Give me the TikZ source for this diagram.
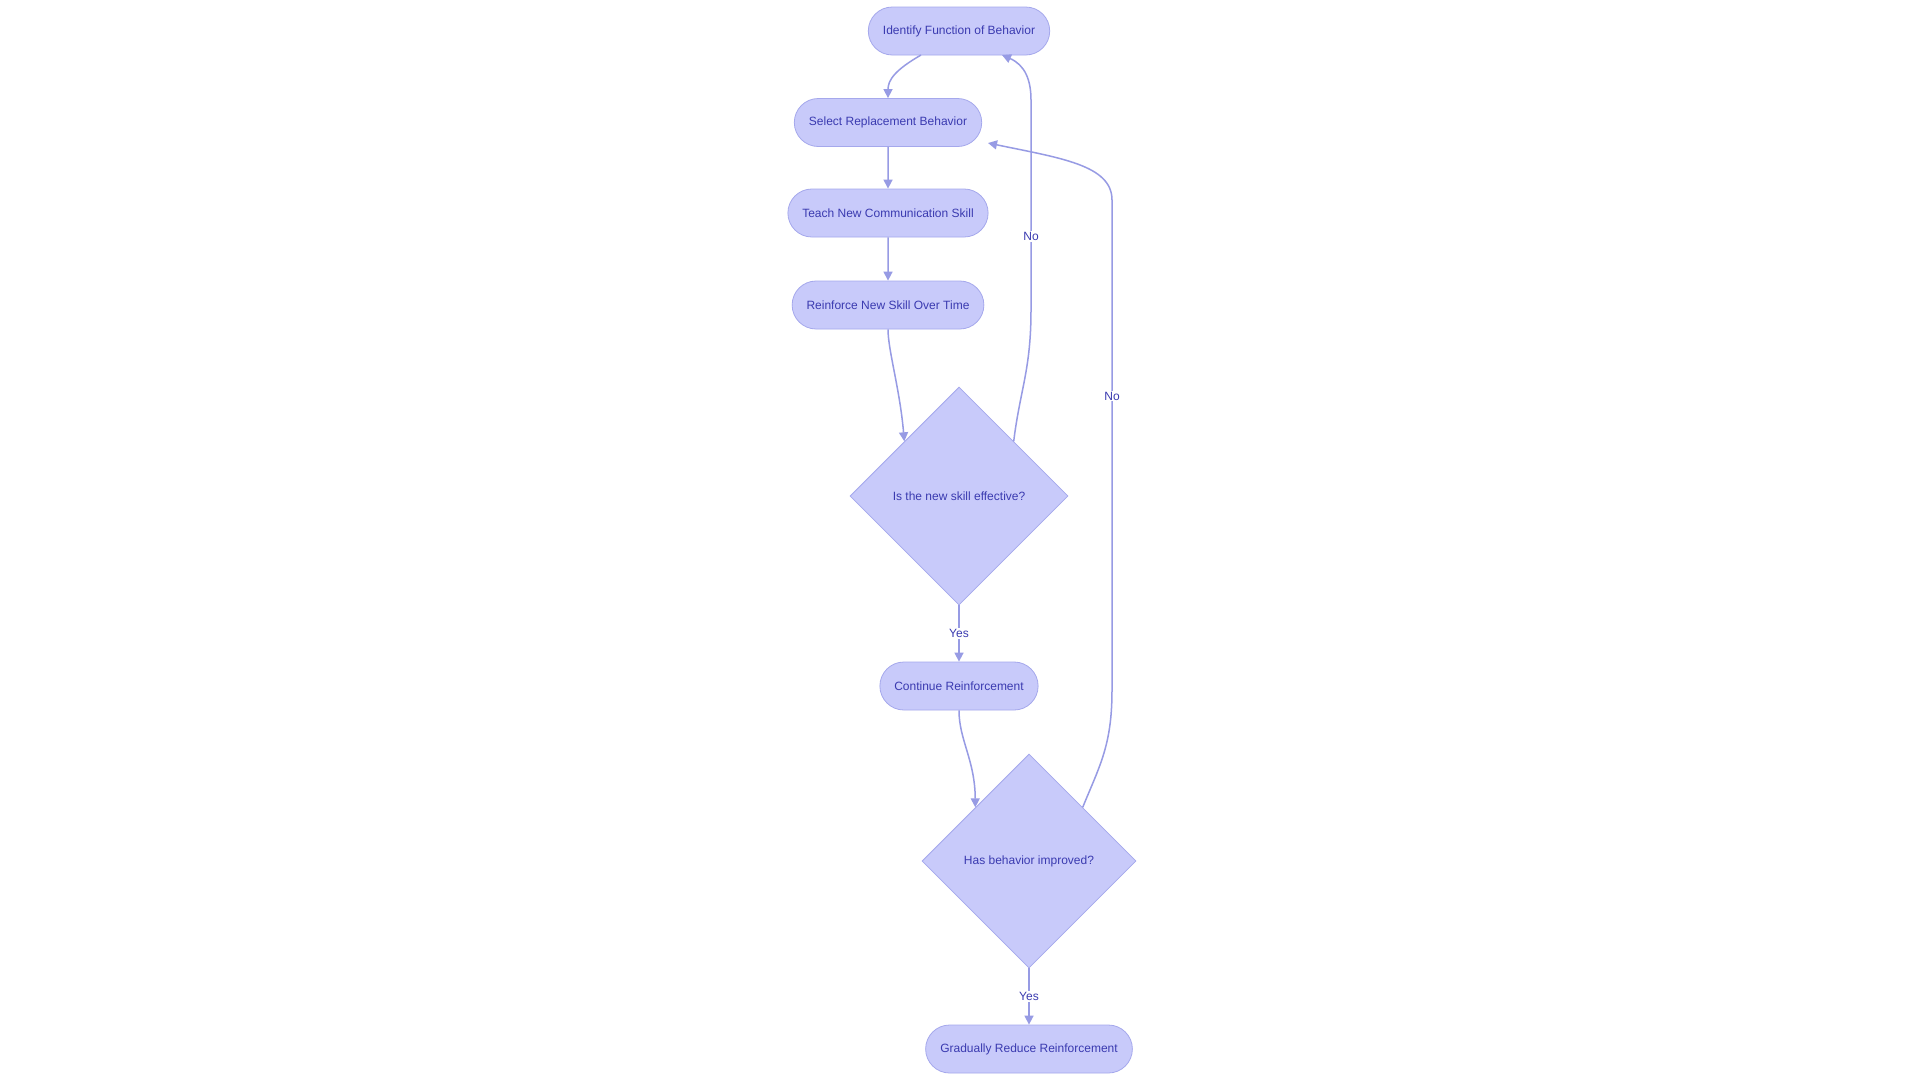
\documentclass[tikz,border=0pt]{standalone}
\usepackage{fontspec}
\setmainfont{Liberation Sans}
\usetikzlibrary{shapes.geometric,arrows.meta}
\definecolor{nfill}{HTML}{C8CAFA}
\definecolor{nline}{HTML}{A5A8EC}
\definecolor{ntext}{HTML}{3A3AB0}
\definecolor{eline}{HTML}{979BE4}
\begin{document}
\begin{tikzpicture}[x=1pt,y=-1pt,
  pill/.style={draw=nline,fill=nfill,rounded rectangle,minimum height=48pt,text=ntext,font=\fontsize{12}{14}\selectfont,inner xsep=14pt,line width=0.8pt},
  dia/.style={draw=nline,fill=nfill,diamond,text=ntext,font=\fontsize{12}{14}\selectfont,line width=0.8pt,inner sep=0pt},
  edge/.style={draw=eline,line width=1.5pt,-{Triangle[length=9pt,width=9pt]}},
  lbl/.style={fill=white,text=ntext,font=\fontsize{12}{14}\selectfont,inner sep=1pt}]
\useasboundingbox[fill=white] (0,0) rectangle (1920,1080);
\usetikzlibrary{shapes.misc}
\node[pill] (a) at (959,31) {Identify Function of Behavior};
\node[pill] (b) at (888,122.5) {Select Replacement Behavior};
\node[pill] (c) at (888,213) {Teach New Communication Skill};
\node[pill] (d) at (888,305) {Reinforce New Skill Over Time};
\node[dia,minimum width=218pt,minimum height=218pt] (e) at (959,496) {Is the new skill effective?};
\node[pill] (f) at (959,686) {Continue Reinforcement};
\node[dia,minimum width=214pt,minimum height=214pt] (g) at (1029,861) {Has behavior improved?};
\node[pill] (h) at (1029,1049) {Gradually Reduce Reinforcement};
\coordinate (a1) at (921,55);
\draw[edge] (a1) .. controls (895,70) and (888,80) .. (b.north);
\draw[edge] (b) -- (c);
\draw[edge] (c) -- (d);
\draw[edge] (d.south) .. controls (888,350) and (900,390) .. (e.north west);
\draw[edge] (e.south) -- node[lbl] {Yes} (f.north);
\draw[edge] (f.south) .. controls (959,740) and (975,760) .. (g.north west);
\draw[edge] (g.south) -- node[lbl] {Yes} (h.north);
\coordinate (e1) at (998,425);
\coordinate (a2) at (1002,55);
\draw[edge] (e.north east) .. controls (1020,390) and (1031,370) .. (1031,310) -- node[lbl,pos=0.35] {No} (1031,100) .. controls (1031,80) and (1025,65) .. (a2);
\coordinate (b2) at (988,143);
\draw[edge] (g.north east) .. controls (1100,765) and (1112,745) .. (1112,690) -- node[lbl,pos=0.6] {No} (1112,200) .. controls (1112,165) and (1060,158) .. (b2);
\end{tikzpicture}
\end{document}
